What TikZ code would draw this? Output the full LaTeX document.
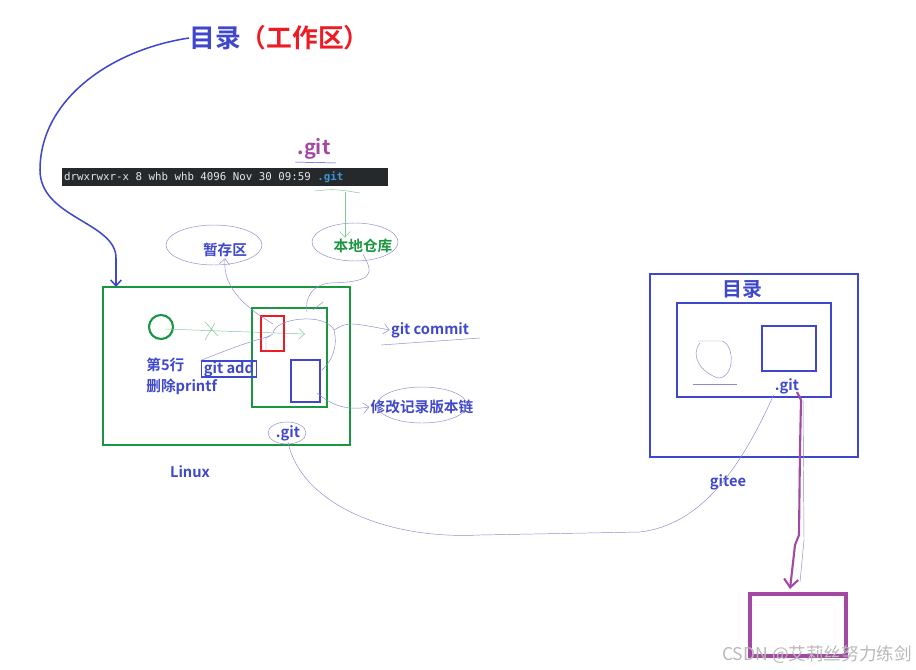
\documentclass[tikz,border=0pt]{standalone}
\usepackage{fontspec}
\setmainfont{Noto Sans CJK SC}[BoldFont={Noto Sans CJK SC Bold}]
\setmonofont{DejaVu Sans Mono}
\usetikzlibrary{arrows.meta,calc,positioning}

\begin{document}
\begin{tikzpicture}[x=0.03cm,y=-0.03cm,>={Straight Barb[length=5pt,width=9pt]}]
\definecolor{inkblue}{RGB}{63,72,204}
\definecolor{inkgreen}{RGB}{26,150,64}
\definecolor{inkred}{RGB}{237,28,36}
\definecolor{inkpurple}{RGB}{163,73,164}
\definecolor{penline}{RGB}{140,140,205}
\definecolor{termbg}{RGB}{38,41,43}
\definecolor{termblue}{RGB}{60,150,220}
\tikzset{
 lbl/.style={font=\fontsize{12.5}{14}\selectfont\bfseries,text=inkblue,inner sep=1pt},
 pen/.style={draw=penline,thin},
 frame/.style={line width=2.2pt},
}
\useasboundingbox[fill=white] (0,0) rectangle (916,670);
% headline and the arrow down to the working tree
\node[font=\fontsize{22}{24}\selectfont\bfseries,anchor=west,inner sep=0pt] (title) at (189,38)
 {\textcolor{inkblue}{目录}\textcolor{inkred}{（工作区）}};
\draw[inkblue,line width=1.3pt,->] (title.west) .. controls (110,50) and (40,100) .. (40,170)
 .. controls (40,218) and (116,222) .. (116,258) -- (116,287);

% ls output
\node[text=inkpurple,font=\fontsize{17}{19}\selectfont\bfseries,inner sep=0pt] (topgit) at (314,149) {.git};
\draw[inkblue,thin] (295,162) -- (336,163);
\fill[termbg] (62,168) rectangle (388,186);
\node[anchor=west,font=\ttfamily\fontsize{9.2}{10}\selectfont,text=gray!20,inner sep=0pt] (term) at (64,177)
 {drwxrwxr-x 8 whb whb 4096 Nov 30 09:59 \textcolor{termblue}{\bfseries .git}};

% staging area and local repository
\node[lbl,text=inkgreen] (localrepo) at (363,246) {本地仓库};
\draw[pen] (355,242) ellipse [x radius=43, y radius=19];
\draw[inkgreen!55] (315,191) .. controls (335,189) .. (360,193);
\draw[inkgreen!55,->] (345,192) -- (localrepo.north -| 345,0);
\node[lbl] (stagearea) at (225,250) {暂存区};
\draw[pen] (214,245) ellipse [x radius=48, y radius=20];

% Linux working tree
\draw[inkgreen,frame] (103,287) rectangle (350,445);
\draw[inkgreen,line width=1.8pt] (161,327) circle [radius=12];
\draw[inkgreen!55,->] (165,329) -- (305,334);
\draw[inkgreen!55] (205,322) -- (218,336) (215,323) -- (205,340);
\draw[inkgreen,line width=1.8pt] (252,308) rectangle (327,407);
\draw[inkred,line width=1.5pt] (261,316) rectangle (284,351);
\draw[inkblue,line width=1.5pt] (291,360) rectangle (320,402);
\draw[pen] (266,351) -- (266,338) -- (273,334);
\node[lbl,anchor=west] (line5) at (145,365) {第5行};
\node[lbl,anchor=west] (delprintf) at (145,387) {删除printf};
\node[lbl,draw=inkblue,line width=1.5pt,inner xsep=2pt,inner ysep=0pt] (gitadd) at (229,369) {git add};
\node[lbl] (gitcommit) at (430,330) {git commit};
\draw[pen] (381,345) -- (480,338);
\node[lbl] (chain) at (422,407) {修改记录版本链};
\draw[pen] (422,405) ellipse [x radius=45, y radius=18];
\node[lbl] (linuxgit) at (288,433) {.git};
\draw[pen] (287,433) ellipse [x radius=19, y radius=11];
\node[lbl] (linux) at (190,472) {Linux};

% hand-drawn connectors
\draw[pen,->] (273,324) .. controls (250,310) and (222,290) .. (stagearea.south);
\draw[pen] (localrepo.south) .. controls (375,275) and (372,282) .. (330,283)
 .. controls (310,285) and (305,300) .. (307,312);
\draw[pen] (313,310) -- (323,302);
\draw[pen] (273,333) .. controls (275,318) and (325,312) .. (334,330)
 .. controls (338,345) and (333,360) .. (322,370);
\draw[pen,->] (334,330) .. controls (348,322) .. (gitcommit.west);
\draw[pen] (gitadd.north west) .. controls (240,345) .. (270,336);
\draw[pen,->] (317,393) .. controls (335,408) and (350,410) .. (chain.west);

% gitee side
\draw[inkblue,frame] (650,274) rectangle (858,457);
\node[font=\fontsize{17}{19}\selectfont\bfseries,text=inkblue,inner sep=0pt] (remotedir) at (742,289) {目录};
\draw[inkblue,frame] (677,303) rectangle (831,397);
\draw[inkblue,frame] (762,326) rectangle (816,371);
\node[lbl] (remotegit) at (787,386) {.git};
\draw[pen] (700,343) .. controls (690,355) and (700,372) .. (718,378)
 .. controls (735,378) and (735,345) .. (722,341) -- (698,341);
\draw[pen] (693,384) -- (737,384);
\node[lbl] (gitee) at (728,482) {gitee};
\draw[pen] (linuxgit.south) .. controls (300,500) and (380,540) .. (480,535) -- (640,532)
 .. controls (700,525) and (740,470) .. (remotegit.south west);
\draw[pen] (803,400) -- (804,540) -- (800,582);
\draw[inkpurple,line width=1.8pt,-{Straight Barb[length=7pt,width=12pt]}] (797,392) -- (801,400) -- (800,450) -- (799,535)
 -- (795,545) -- (790,589);
\draw[inkpurple,line width=3.5pt] (750,594) rectangle (846,656);

\node[font=\fontsize{15}{17}\selectfont,text=gray!55,anchor=east,inner sep=0pt] (mark) at (912,655) {CSDN @艾莉丝努力练剑};
\end{tikzpicture}
\end{document}
